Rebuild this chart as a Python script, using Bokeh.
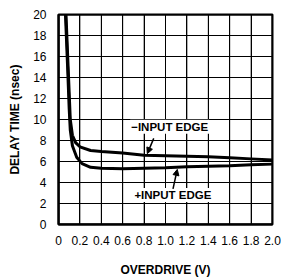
from bokeh.plotting import figure
from bokeh.models import Range1d, FixedTicker, Arrow, NormalHead
from bokeh.core.properties import value
from bokeh.embed import file_html
from bokeh.resources import INLINE

# -INPUT EDGE (upper curve)
neg_x = [0.07, 0.09, 0.11, 0.13, 0.16, 0.20, 0.30, 0.40, 0.60, 0.80, 1.00, 1.20, 1.40, 1.60, 1.80, 2.00]
neg_y = [20.0, 15.0, 10.0, 8.5, 7.8, 7.4, 7.05, 6.95, 6.8, 6.6, 6.55, 6.5, 6.45, 6.35, 6.25, 6.15]

# +INPUT EDGE (lower curve)
pos_x = [0.065, 0.085, 0.10, 0.11, 0.13, 0.17, 0.22, 0.30, 0.40, 0.60, 0.80, 1.00, 1.20, 1.40, 1.60, 1.80, 2.00]
pos_y = [20.0, 15.0, 11.0, 9.0, 7.5, 6.4, 5.8, 5.45, 5.35, 5.3, 5.35, 5.4, 5.5, 5.55, 5.6, 5.7, 5.75]

x_ticks = [0, 0.2, 0.4, 0.6, 0.8, 1.0, 1.2, 1.4, 1.6, 1.8, 2.0]
x_tick_labels = ["0", "0.2", "0.4", "0.6", "0.8", "1.0", "1.2", "1.4", "1.6", "1.8", "2.0"]
y_ticks = [0, 2, 4, 6, 8, 10, 12, 14, 16, 18, 20]
y_tick_labels = ["0", "2", "4", "6", "8", "10", "12", "14", "16", "18", "20"]

labels = ["\u2212INPUT EDGE", "+INPUT EDGE"]
label_x = [0.67, 0.70]
label_y = [9.3, 2.8]

FONT = "Liberation Sans"
X0, X1 = 0, 2
Y0, Y1 = 0, 20
XM, YM = (X0 + X1) / 2, (Y0 + Y1) / 2

p = figure(width=281, height=279, output_backend="svg", toolbar_location=None,
           x_range=Range1d(X0, X1), y_range=Range1d(Y0, Y1),
           min_border_left=58, min_border_right=9, min_border_top=14, min_border_bottom=51)

p.outline_line_color = "black"
p.outline_line_width = 2
p.border_fill_color = "white"
p.background_fill_color = "white"

p.xgrid.ticker = FixedTicker(ticks=x_ticks)
p.ygrid.ticker = FixedTicker(ticks=y_ticks)
p.grid.grid_line_color = "black"
p.grid.grid_line_width = 1

# grid drawn from the tick arrays as thin filled bars (1 screen px)
p.rect(x=x_ticks, y=[YM] * len(x_ticks), width=1, height=Y1 - Y0,
       width_units="screen", fill_color="black", fill_alpha=0.8, line_color=None)
p.rect(x=[XM] * len(y_ticks), y=y_ticks, width=X1 - X0, height=1,
       height_units="screen", fill_color="black", fill_alpha=0.8, line_color=None)

# frame box edges (2 screen px)
p.rect(x=[X0, X1], y=[YM, YM], width=2, height=Y1 - Y0,
       width_units="screen", fill_color="black", line_color=None)
p.rect(x=[XM, XM], y=[Y0, Y1], width=X1 - X0, height=2,
       height_units="screen", fill_color="black", line_color=None)

p.xaxis.ticker = FixedTicker(ticks=x_ticks)
p.yaxis.ticker = FixedTicker(ticks=y_ticks)
p.xaxis.major_label_overrides = {t: l for t, l in zip(x_ticks, x_tick_labels)}
p.yaxis.major_label_overrides = {t: l for t, l in zip(y_ticks, y_tick_labels)}

for ax in (p.xaxis, p.yaxis):
    ax.axis_line_color = "black"
    ax.axis_line_width = 2
    ax.major_tick_line_color = None
    ax.minor_tick_line_color = None
    ax.major_label_text_font = FONT
    ax.major_label_text_font_size = "12px"
    ax.major_label_text_color = "black"
    ax.axis_label_text_font = FONT
    ax.axis_label_text_font_size = "12px"
    ax.axis_label_text_font_style = "bold"
    ax.axis_label_text_color = "black"

p.xaxis.axis_label = "OVERDRIVE (V)"
p.yaxis.axis_label = "DELAY TIME (nsec)"
p.xaxis.major_label_standoff = 5
p.yaxis.major_label_standoff = 6
p.xaxis.axis_label_standoff = 15
p.yaxis.axis_label_standoff = 8

p.line(neg_x, neg_y, line_color="black", line_width=3)
p.line(pos_x, pos_y, line_color="black", line_width=3)

p.text(x=label_x, y=label_y, text=labels, text_font=value(FONT), text_font_style="bold",
       text_font_size="11.5px", text_align="left", text_baseline="middle", text_color="black",
       background_fill_color="white", padding=1)

p.add_layout(Arrow(end=NormalHead(size=6, fill_color="black", line_color="black"),
                   x_start=0.89, y_start=8.2, x_end=0.83, y_end=6.75,
                   line_color="black", line_width=1.5))
p.add_layout(Arrow(end=NormalHead(size=6, fill_color="black", line_color="black"),
                   x_start=1.07, y_start=3.4, x_end=1.11, y_end=5.25,
                   line_color="black", line_width=1.5))

open("out.html", "w").write(file_html(p, INLINE))
